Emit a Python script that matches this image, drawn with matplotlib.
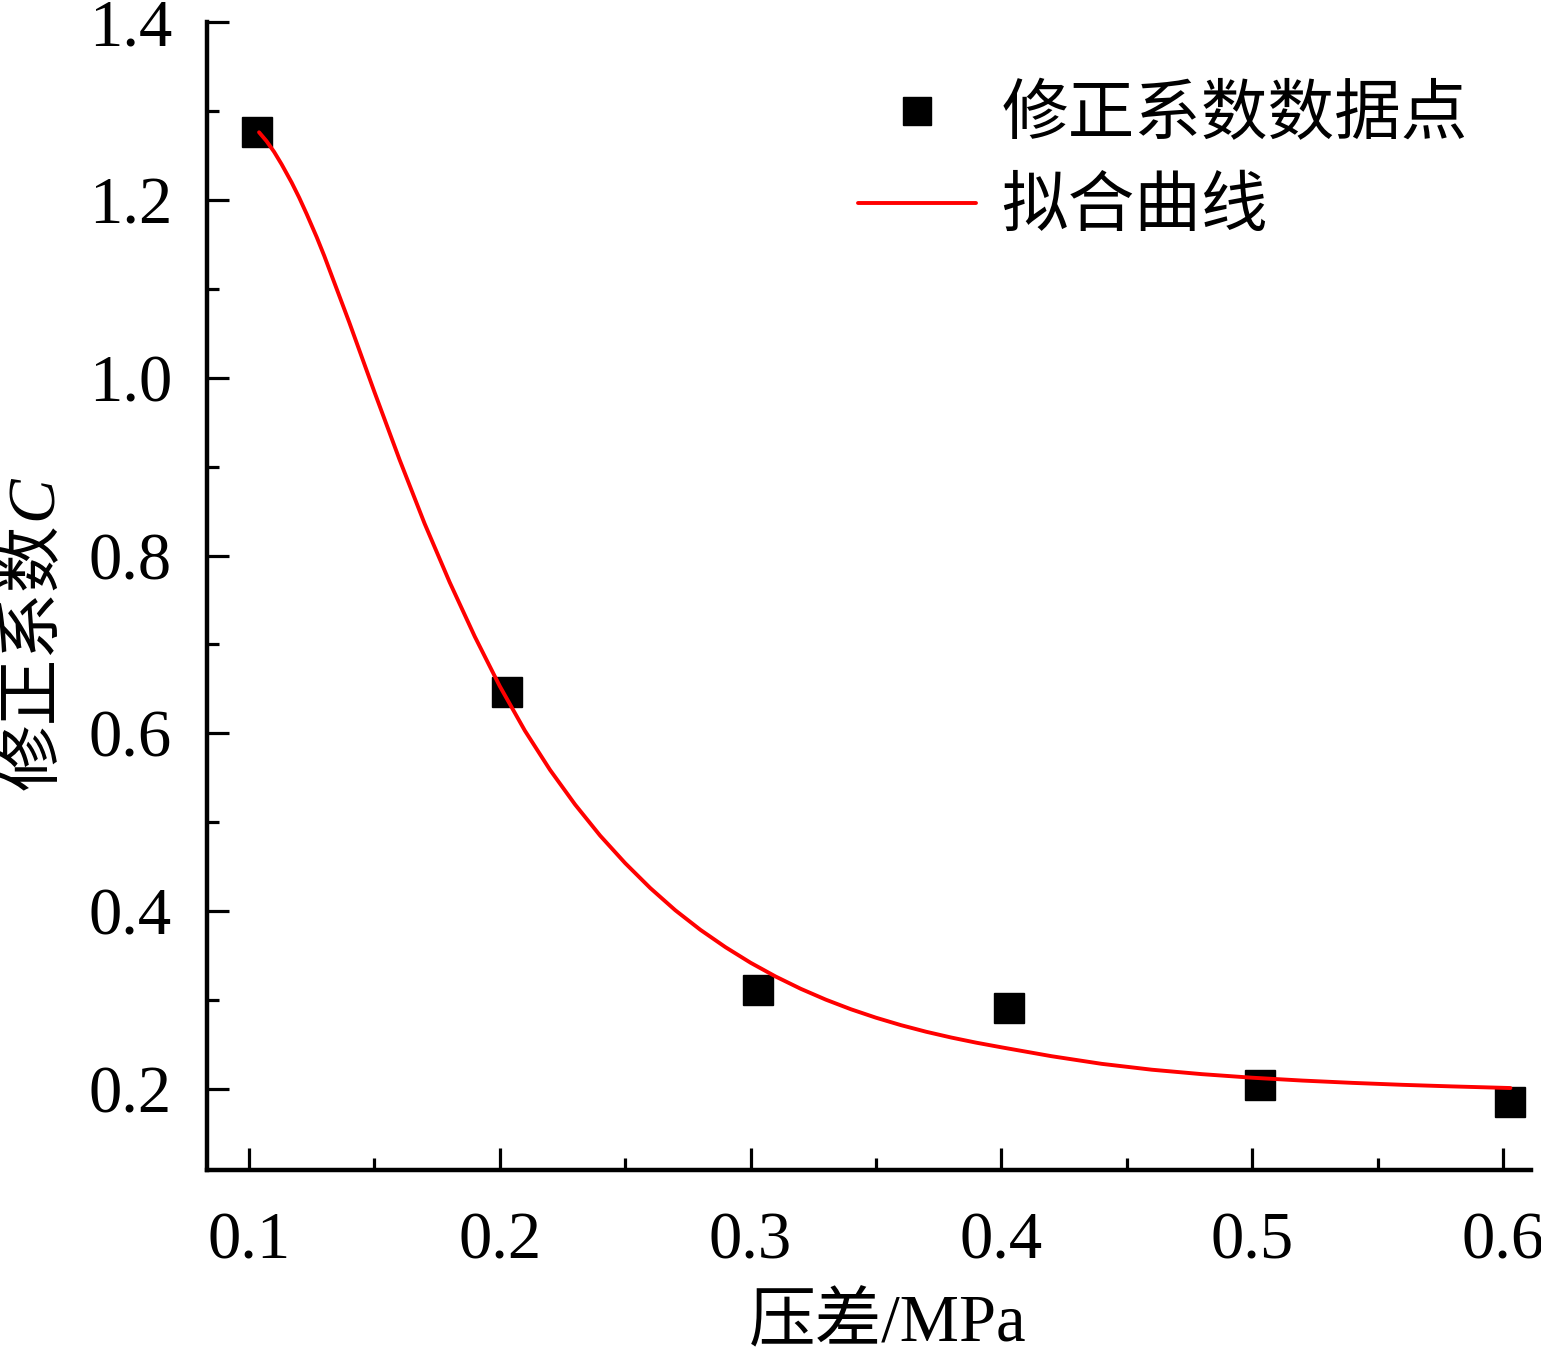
import numpy as np
import matplotlib
matplotlib.use('Agg')
import matplotlib.pyplot as plt
from matplotlib.ticker import MultipleLocator

plt.rcParams['font.family'] = ['Liberation Serif', 'Noto Sans CJK SC']
plt.rcParams['axes.unicode_minus'] = False

# 压差 / 修正系数 数据点
pressure = [0.103, 0.203, 0.303, 0.403, 0.503, 0.603]
coef = [1.276, 0.646, 0.311, 0.291, 0.2045, 0.185]

# 拟合曲线 (读取自原图)
fit_x = [0.104, 0.107, 0.110, 0.113, 0.117, 0.120, 0.123, 0.127, 0.13, 0.14,
         0.15, 0.16, 0.17, 0.18, 0.19,
         0.20, 0.21, 0.22, 0.23, 0.24, 0.25, 0.26, 0.27, 0.28, 0.29,
         0.30, 0.31, 0.32, 0.33, 0.34, 0.35, 0.36, 0.37, 0.38, 0.39,
         0.40, 0.42, 0.44, 0.46, 0.48, 0.50, 0.52, 0.54, 0.56, 0.58, 0.603]
fit_y = [1.276, 1.266, 1.254, 1.240, 1.2195, 1.2025, 1.184, 1.158, 1.137, 1.062,
         0.984, 0.908, 0.836, 0.770, 0.709,
         0.653, 0.603, 0.559, 0.520, 0.485, 0.454, 0.426, 0.401, 0.379, 0.3595,
         0.342, 0.3265, 0.3127, 0.3005, 0.2897, 0.2802, 0.2718, 0.2644, 0.2579, 0.2521,
         0.2469, 0.2369, 0.2283, 0.2217, 0.2167, 0.2127, 0.2095, 0.2069, 0.2047, 0.2029, 0.2011]

xticks = [0.1, 0.2, 0.3, 0.4, 0.5, 0.6]
yticks = [0.2, 0.4, 0.6, 0.8, 1.0, 1.2, 1.4]

fs = 48

fig = plt.figure(figsize=(15.41, 13.60), dpi=100)
ax = fig.add_axes([0.1341, 0.1397, 0.8594, 0.8441])

ax.plot(pressure, coef, 's', color='black', markersize=22, label='修正系数数据点', zorder=3)
ax.plot(fit_x, fit_y, '-', color='#ff0000', linewidth=2.8, label='拟合曲线', zorder=4,
        solid_joinstyle='round', solid_capstyle='round')

ax.set_xlim(0.0831, 0.6112)
ax.set_ylim(0.1089, 1.4)

ax.set_xticks(xticks)
ax.set_yticks(yticks)
ax.set_xticklabels(['%.1f' % v for v in xticks])
ax.set_yticklabels(['%.1f' % v for v in yticks])
ax.xaxis.set_minor_locator(MultipleLocator(0.05))
ax.yaxis.set_minor_locator(MultipleLocator(0.1))

for s in ['top', 'right']:
    ax.spines[s].set_visible(False)
for s in ['left', 'bottom']:
    ax.spines[s].set_linewidth(3.2)

ax.tick_params(which='major', direction='in', length=16, width=2.3, labelsize=fs)
ax.tick_params(which='minor', direction='in', length=8.5, width=2.3)
ax.tick_params(axis='y', which='major', pad=25)
ax.tick_params(axis='x', which='major', pad=30)

ax.set_xlabel('压差/MPa', fontsize=fs, fontweight='light')
ax.xaxis.set_label_coords(0.5145, -0.108)

# 纵轴标题: 中文 + 斜体 C
ax.text(-0.1297, 0.331, '修正系数', transform=ax.transAxes, fontsize=fs,
        fontweight='light', rotation=90, rotation_mode='anchor',
        ha='left', va='center')
ax.text(-0.1297, 0.566, 'C', transform=ax.transAxes, fontsize=fs,
        family='Liberation Serif', style='italic', rotation=90,
        rotation_mode='anchor', ha='left', va='center')

leg = ax.legend(loc='upper left', bbox_to_anchor=(0.492, 0.944), frameon=False,
                fontsize=fs, handlelength=1.77, handletextpad=0.38,
                labelspacing=0.45, borderpad=0, borderaxespad=0, markerscale=0.9,
                prop={'size': fs, 'weight': 'light'})

fig.savefig('out.png', dpi=100)
